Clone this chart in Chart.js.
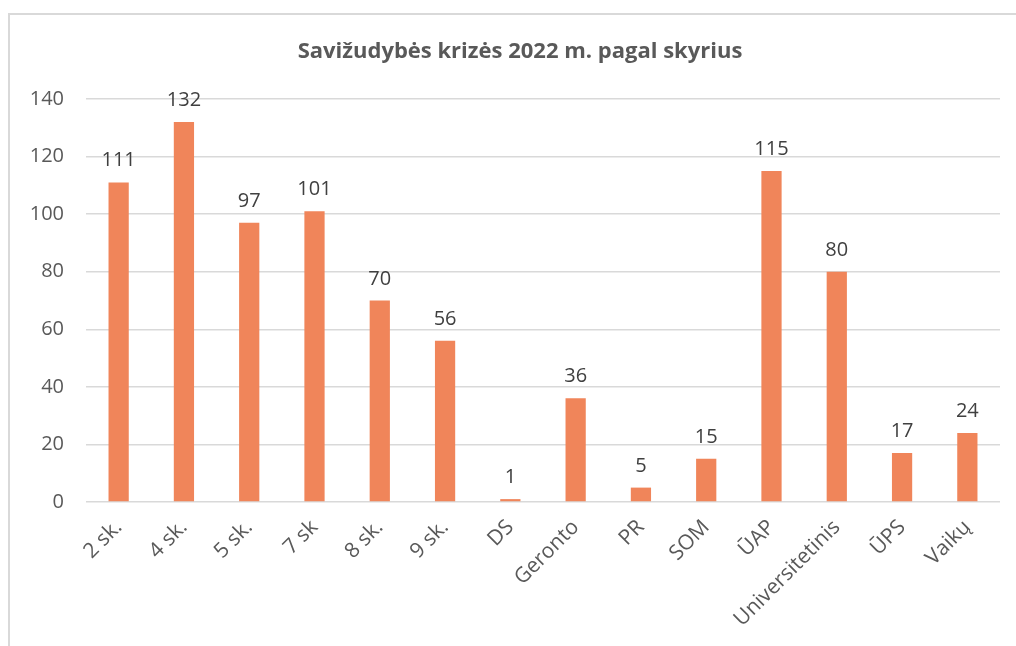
<!DOCTYPE html>
<html>
<head>
<meta charset="utf-8">
<script src="https://cdn.jsdelivr.net/npm/chart.js@4"></script>
<style>
    html, body { margin: 0; padding: 0; background: #fff; overflow: hidden; }
    #wrap { position: relative; width: 1016px; height: 646px; }
    #frame { position: absolute; left: 8px; top: 13px; width: 1100px; height: 700px; border: 2px solid #d9d9d9; box-sizing: border-box; }
    canvas { position: absolute; left: 0; top: 0; }
</style>
</head>
<body>
<div id="wrap">
    <div id="frame"></div>
    <canvas id="chart" width="1016" height="646"></canvas>
</div>
<script>
// categories and values
const departments = ['2 sk.', '4 sk.', '5 sk.', '7 sk', '8 sk.', '9 sk.', 'DS', 'Geronto', 'PR', 'SOM', 'ŪAP', 'Universitetinis', 'ŪPS', 'Vaikų'];
const crisisCounts = [111, 132, 97, 101, 70, 56, 1, 36, 5, 15, 115, 80, 17, 24];
const yTicks = [0, 20, 40, 60, 80, 100, 120, 140];
const chartTitle = 'Savižudybės krizės 2022 m. pagal skyrius';

const fontFamily = '"Open Sans", "Noto Sans", sans-serif';

// value above each bar, plus the title (drawn here so it can sit off-centre like the original)
const valueLabels = {
    id: 'valueLabels',
    afterDatasetsDraw(chart) {
        const ctx = chart.ctx;
        const meta = chart.getDatasetMeta(0);
        ctx.save();
        ctx.font = '20px ' + fontFamily;
        ctx.fillStyle = '#404040';
        ctx.textAlign = 'center';
        ctx.textBaseline = 'alphabetic';
        meta.data.forEach((bar, i) => {
            ctx.fillText(crisisCounts[i], bar.x, bar.y - 16);
        });

        ctx.font = 'bold 22px ' + fontFamily;
        ctx.fillStyle = '#595959';
        ctx.textBaseline = 'middle';
        ctx.fillText(chartTitle, chart.width / 2 + 12, 52);
        ctx.restore();
    }
};

const ctx = document.getElementById('chart').getContext('2d');
const chart = new Chart(ctx, {
    type: 'bar',
    data: {
        labels: departments,
        datasets: [{
            data: crisisCounts,
            backgroundColor: '#F0855A',
            borderWidth: 0,
            barPercentage: 0.31,
            categoryPercentage: 1
        }]
    },
    options: {
        responsive: false,
        animation: false,
        layout: { padding: { top: 99, left: 20, right: 16, bottom: 18 } },
        plugins: {
            legend: { display: false },
            tooltip: { enabled: false },
            title: { display: false }
        },
        scales: {
            x: {
                grid: { display: false },
                border: { display: false },
                ticks: {
                    color: '#595959',
                    font: { family: fontFamily, size: 21 },
                    maxRotation: 45,
                    minRotation: 45,
                    padding: 5
                },
                afterFit(scale) { scale.height = 126; }
            },
            y: {
                min: 0,
                max: 140,
                afterBuildTicks(scale) { scale.ticks = yTicks.map(v => ({ value: v })); },
                grid: { color: '#d9d9d9', lineWidth: 1.5, drawTicks: false },
                border: { display: false },
                ticks: {
                    color: '#595959',
                    font: { family: fontFamily, size: 20 },
                    padding: 22
                },
                afterFit(scale) { scale.width = 66; }
            }
        }
    },
    plugins: [valueLabels]
});
</script>
</body>
</html>
